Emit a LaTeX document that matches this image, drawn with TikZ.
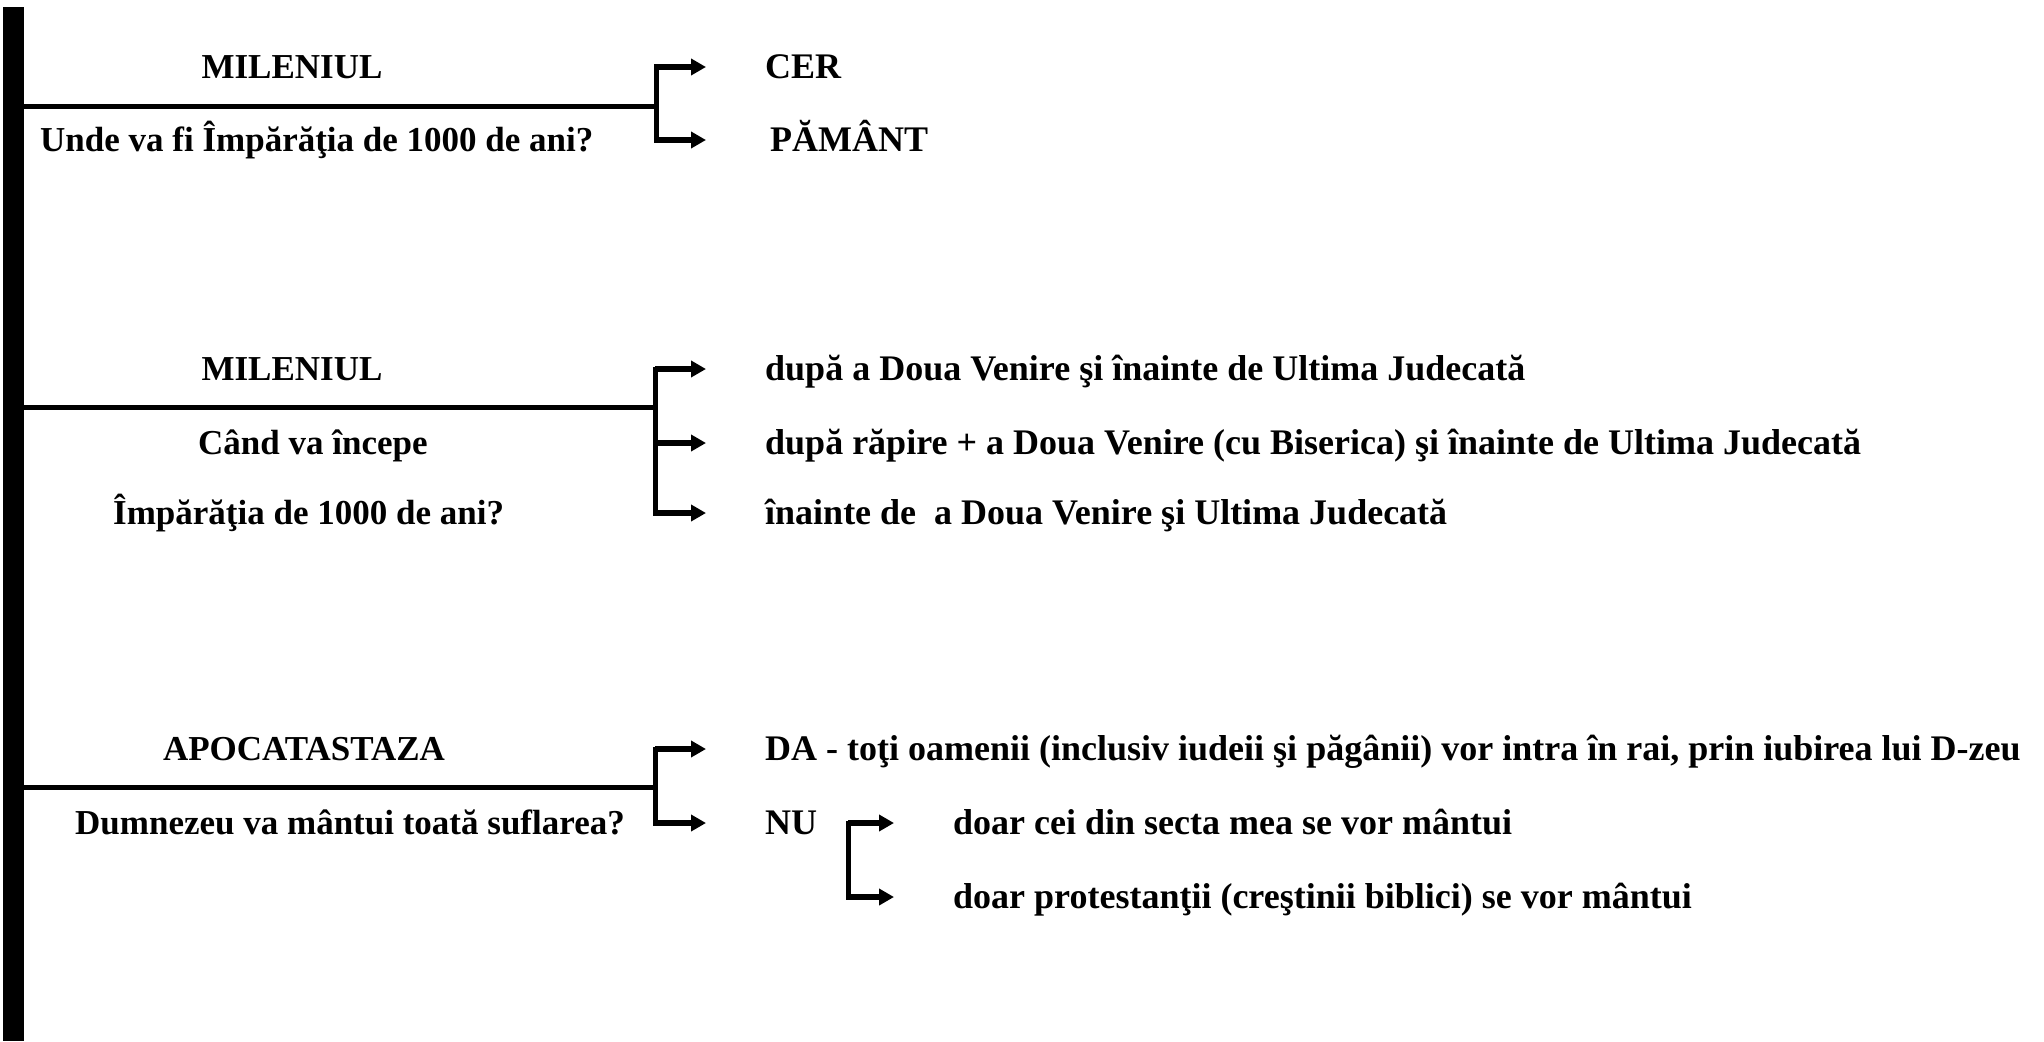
\documentclass[tikz,border=0pt]{standalone}
\usepackage{fontspec}
\setmainfont{Liberation Serif}
\usetikzlibrary{arrows.meta}
\begin{document}
\begin{tikzpicture}[x=1pt,y=-1pt,
  txt/.style={inner sep=0pt, anchor=west, text height=23pt, text depth=0pt,
    font=\fontsize{36}{40}\selectfont\bfseries},
  ltxt/.style={txt, font=\fontsize{35}{40}\selectfont\bfseries},
  ctxt/.style={ltxt, anchor=center},
  stem/.style={line width=5pt},
  brk/.style={line width=5pt, line cap=rect},
  arr/.style={line width=6pt, -{Triangle[length=15pt,width=16pt]}, shorten >=59pt}]
\useasboundingbox (0,0) rectangle (2044,1041);
% vertical bar
\fill (3,7) rectangle (24,1041);
\coordinate (bar1) at (24,106);
\coordinate (bar2) at (24,407);
\coordinate (bar3) at (24,787);
% ---------- group 1
\node[ctxt] (m1) at (292,67) {MILENIUL};
\node[ltxt] (q1) at (40,140) {Unde va fi Împărăţia de 1000 de ani?};
\node[txt] (cer) at (765,67) {CER};
\node[txt] (pam) at (770,140) {PĂMÂNT};
\coordinate (j1) at (656,106);
\draw[stem] (bar1) -- (j1);
\draw[brk] (cer.west -| j1) -- (pam.west -| j1);
\draw[arr] (cer.west -| j1) -- (cer.west);
\draw[arr] (pam.west -| j1) -- ([xshift=-5pt]pam.west);
% ---------- group 2
\node[ctxt] (m2) at (292,369) {MILENIUL};
\node[ltxt] (q2a) at (198,443) {Când va începe};
\node[ltxt] (q2b) at (113,513) {Împărăţia de 1000 de ani?};
\node[txt] (r1) at (765,369) {după a Doua Venire şi înainte de Ultima Judecată};
\node[txt] (r2) at (765,443) {după răpire + a Doua Venire (cu Biserica) şi înainte de Ultima Judecată};
\node[txt] (r3) at (765,513) {înainte de~~a Doua Venire şi Ultima Judecată};
\coordinate (j2) at (655,407);
\draw[stem] (bar2) -- (j2);
\draw[brk] (r1.west -| j2) -- (r3.west -| j2);
\draw[arr] (r1.west -| j2) -- (r1.west);
\draw[arr] (r2.west -| j2) -- (r2.west);
\draw[arr] (r3.west -| j2) -- (r3.west);
% ---------- group 3
\node[ctxt] (ap) at (304,749) {APOCATASTAZA};
\node[ltxt] (q3) at (75,823) {Dumnezeu va mântui toată suflarea?};
\node[txt] (da) at (765,749) {DA - toţi oamenii (inclusiv iudeii şi păgânii) vor intra în rai, prin iubirea lui D-zeu};
\node[txt] (nu) at (765,823) {NU};
\node[txt] (s1) at (953,823) {doar cei din secta mea se vor mântui};
\node[txt] (s2) at (953,897) {doar protestanţii (creştinii biblici) se vor mântui};
\coordinate (j3) at (655,787);
\draw[stem] (bar3) -- (j3);
\draw[brk] (da.west -| j3) -- (nu.west -| j3);
\draw[arr] (da.west -| j3) -- (da.west);
\draw[arr] (nu.west -| j3) -- (nu.west);
\coordinate (j4) at (848,860);
\draw[brk] (s1.west -| j4) -- (s2.west -| j4);
\draw[arr] (s1.west -| j4) -- (s1.west);
\draw[arr] (s2.west -| j4) -- (s2.west);
\end{tikzpicture}
\end{document}
